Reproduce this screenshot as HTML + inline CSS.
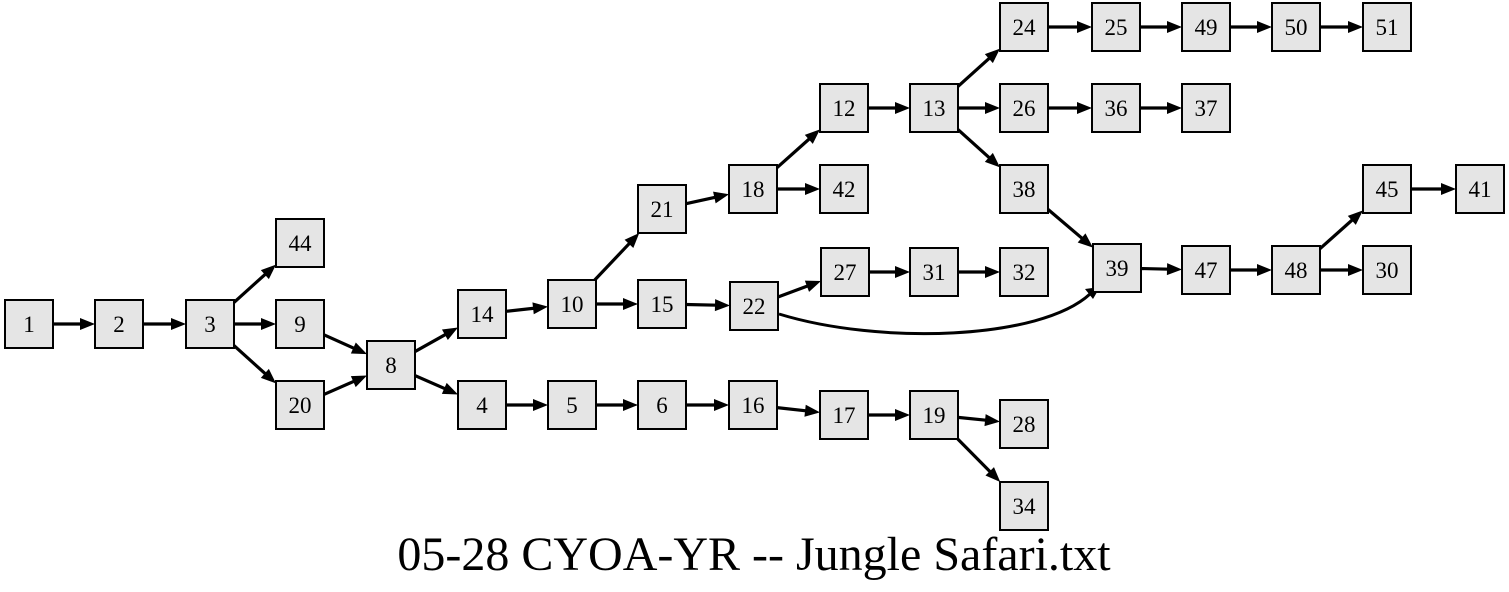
<!DOCTYPE html>
<html><head><meta charset="utf-8"><style>
html,body{margin:0;padding:0;background:#fff;width:1509px;height:592px;overflow:hidden}
svg{display:block}
text{font-family:"Liberation Serif",serif}
</style></head><body>
<svg id="s" width="1509" height="592" xmlns="http://www.w3.org/2000/svg">
<path d="M779,314 C880,345 1040,340 1090,294" fill="none" stroke="#000" stroke-width="3"/>
<polygon points="1100,287 1085,289 1093,299" fill="#000"/>
<g id="e"></g><g id="n"></g>
<text x="754" y="570" font-size="48" text-anchor="middle">05-28 CYOA-YR -- Jungle Safari.txt</text>
</svg>
<script>
var N={1:[29,324],2:[119,324],3:[210,324],44:[300,243],9:[300,324],20:[300,405],8:[391,365],14:[482,314],4:[482,405],10:[572,304],5:[572,405],15:[662,304],6:[662,405],21:[662,209],22:[754,306],16:[753,405],18:[753,189],42:[844,189],12:[844,108],27:[845,272],17:[844,415],13:[934,108],31:[934,272],19:[934,415],24:[1024,27],26:[1024,108],38:[1024,189],32:[1024,272],28:[1024,424],34:[1024,506],25:[1116,27],36:[1116,108],39:[1117,268],49:[1206,27],37:[1206,108],47:[1206,270],50:[1296,27],48:[1296,270],51:[1387,27],45:[1387,189],30:[1387,270],41:[1480,189]};
var E=[[1,2],[2,3],[3,44],[3,9],[3,20],[9,8],[20,8],[8,14],[8,4],[14,10],[10,21],[10,15],[15,22],[4,5],[5,6],[6,16],[16,17],[17,19],[19,28],[19,34],[21,18],[18,12],[18,42],[12,13],[13,24],[13,26],[13,38],[24,25],[25,49],[49,50],[50,51],[26,36],[36,37],[38,39],[22,27],[27,31],[31,32],[39,47],[47,48],[48,45],[48,30],[45,41]];
var H=24,ns="http://www.w3.org/2000/svg",eg=document.getElementById('e'),ng=document.getElementById('n');
function clip(dx,dy){var t=Math.min(dx?H/Math.abs(dx):1e9,dy?H/Math.abs(dy):1e9);return t;}
E.forEach(function(p){var a=N[p[0]],b=N[p[1]];var dx=b[0]-a[0],dy=b[1]-a[1];var L=Math.hypot(dx,dy),ux=dx/L,uy=dy/L;
var t1=clip(dx,dy);var sx=a[0]+dx*t1,sy=a[1]+dy*t1;var ex=b[0]-dx*t1,ey=b[1]-dy*t1;
var bx=ex-ux*15,by=ey-uy*15;
var l=document.createElementNS(ns,'line');l.setAttribute('x1',sx);l.setAttribute('y1',sy);l.setAttribute('x2',bx+ux*2);l.setAttribute('y2',by+uy*2);l.setAttribute('stroke','#000');l.setAttribute('stroke-width','3.2');eg.appendChild(l);
var pg=document.createElementNS(ns,'polygon');pg.setAttribute('points',ex+','+ey+' '+(bx-uy*6)+','+(by+ux*6)+' '+(bx+uy*6)+','+(by-ux*6));pg.setAttribute('fill','#000');eg.appendChild(pg);});
for(var k in N){var c=N[k];var r=document.createElementNS(ns,'rect');r.setAttribute('x',c[0]-H);r.setAttribute('y',c[1]-H);r.setAttribute('width',48);r.setAttribute('height',48);r.setAttribute('fill','#e5e5e5');r.setAttribute('stroke','#000');r.setAttribute('stroke-width','2');ng.appendChild(r);
var t=document.createElementNS(ns,'text');t.setAttribute('x',c[0]);t.setAttribute('y',c[1]+8);t.setAttribute('font-size','23');t.setAttribute('text-anchor','middle');t.textContent=k;ng.appendChild(t);}
</script>
</body></html>
